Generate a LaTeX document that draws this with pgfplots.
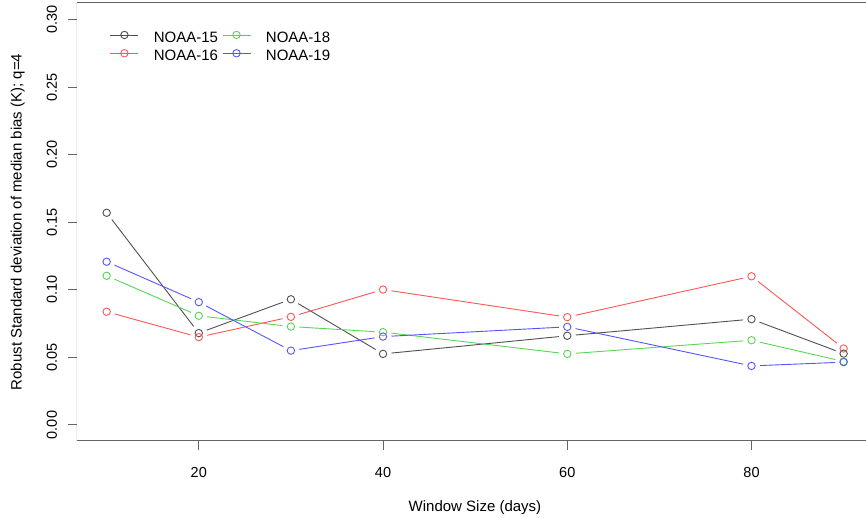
\documentclass[border=0pt]{standalone}
\usepackage{fontspec}
\setmainfont{Liberation Sans}
\usepackage{pgfplots}
\pgfplotsset{compat=1.18}
\usepackage{pgfplotstable}
\definecolor{cblack}{RGB}{80,80,80}
\definecolor{cred}{RGB}{255,85,85}
\definecolor{cgreen}{RGB}{85,215,85}
\definecolor{cblue}{RGB}{85,85,255}
\definecolor{cframe}{RGB}{100,100,100}

\pgfplotstableread{
x y
10 0.1570
20 0.0680
30 0.0930
40 0.0526
60 0.0660
80 0.0783
90 0.0528
}\dataA
\pgfplotstableread{
x y
10 0.0838
20 0.0650
30 0.0800
40 0.1002
60 0.0798
80 0.1100
90 0.0566
}\dataB
\pgfplotstableread{
x y
10 0.1104
20 0.0808
30 0.0728
40 0.0687
60 0.0526
80 0.0627
90 0.0470
}\dataC
\pgfplotstableread{
x y
10 0.1208
20 0.0909
30 0.0550
40 0.0654
60 0.0726
80 0.0437
90 0.0465
}\dataD

\newcommand{\segs}[2]{%
\addplot[#2,forget plot,skip coords between index={2}{7}] table[x=x,y=y]{#1};
\addplot[#2,forget plot,skip coords between index={0}{1},skip coords between index={3}{7}] table[x=x,y=y]{#1};
\addplot[#2,forget plot,skip coords between index={0}{2},skip coords between index={4}{7}] table[x=x,y=y]{#1};
\addplot[#2,forget plot,skip coords between index={0}{3},skip coords between index={5}{7}] table[x=x,y=y]{#1};
\addplot[#2,forget plot,skip coords between index={0}{4},skip coords between index={6}{7}] table[x=x,y=y]{#1};
\addplot[#2,forget plot,skip coords between index={0}{5}] table[x=x,y=y]{#1};
\addplot[#2,forget plot,only marks,mark=o,mark size=3.7pt] table[x=x,y=y]{#1};
}

\begin{document}
\begin{tikzpicture}
\begin{axis}[
  name=ax,
  scale only axis, width=789pt, height=438pt,
  xmin=6.78, xmax=92.43, ymin=-0.01184, ymax=0.3122,
  axis line style={draw=none},
  xtick={20,40,60,80}, ytick={0,0.05,0.10,0.15,0.20,0.25,0.30},
  xtick pos=bottom, ytick pos=left,
  tick align=outside, major tick length=9pt,
  every tick/.style={cframe, line width=1pt},
  /pgf/number format/assume math mode=true,
  every tick label/.append style={font=\fontsize{14.5}{17}\selectfont},
  yticklabel style={/pgf/number format/fixed, /pgf/number format/fixed zerofill, /pgf/number format/precision=2},
  yticklabel style={xshift=-11pt, rotate=90, anchor=base, inner sep=0pt},
  xticklabel style={anchor=base, inner sep=0pt, yshift=-27pt},
  xlabel={Window Size (days)},
  ylabel={Robust Standard deviation of median bias (K); q=4},
  label style={font=\fontsize{15}{18}\selectfont},
  xlabel style={at={(axis description cs:0.5044,-0.1621)}, anchor=base, inner sep=0pt},
  ylabel style={at={(axis description cs:-0.0703,0.5)}, anchor=base, inner sep=0pt},
  legend columns=2,
  legend cell align=left,
  legend image code/.code={\draw[#1, mark repeat=2, mark phase=2] plot coordinates {(0pt,5.3pt) (14pt,5.3pt) (28pt,5.3pt)};},
  legend style={at={(axis description cs:0.0418,0.9358)}, anchor=north west, draw=none, fill=none,
    inner sep=0pt, outer sep=0pt, row sep=0pt, column sep=0pt,
    font=\fontsize{15}{18}\selectfont,
    nodes={inner sep=0pt, text height=11pt, text depth=7.3pt},
    /tikz/every odd column/.append style={column sep=15pt},
    /tikz/every even column/.append style={column sep=4pt}},
]
\draw[cframe, line width=1pt] (rel axis cs:1,1) -- (rel axis cs:0,1) -- (rel axis cs:0,0) -- (rel axis cs:1,0);

\segs{\dataA}{cblack, line width=0.9pt, shorten >=8.5pt, shorten <=8.5pt}
\segs{\dataB}{cred, line width=0.9pt, shorten >=8.5pt, shorten <=8.5pt}
\segs{\dataC}{cgreen, line width=0.9pt, shorten >=8.5pt, shorten <=8.5pt}
\segs{\dataD}{cblue, line width=0.9pt, shorten >=8.5pt, shorten <=8.5pt}

\addlegendimage{cblack, line width=0.9pt, mark=o, mark size=3.7pt}
\addlegendentry{NOAA-15}
\addlegendimage{cgreen, line width=0.9pt, mark=o, mark size=3.7pt}
\addlegendentry{NOAA-18}
\addlegendimage{cred, line width=0.9pt, mark=o, mark size=3.7pt}
\addlegendentry{NOAA-16}
\addlegendimage{cblue, line width=0.9pt, mark=o, mark size=3.7pt}
\addlegendentry{NOAA-19}
\end{axis}
\pgfresetboundingbox
\path[use as bounding box] ([shift={(-77pt,-77pt)}]ax.south west) rectangle ([shift={(0pt,3pt)}]ax.north east);
\end{tikzpicture}
\end{document}
